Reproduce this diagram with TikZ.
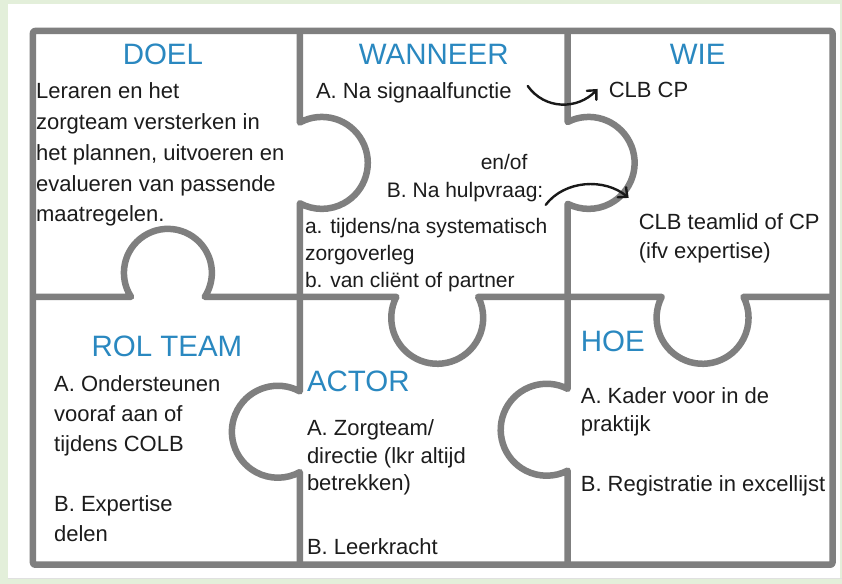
\documentclass[tikz,border=0pt]{standalone}
\usepackage{fontspec}
\setmainfont{Liberation Sans}
\usetikzlibrary{arrows.meta}
\definecolor{framegray}{HTML}{7F7F7F}
\definecolor{titleblue}{HTML}{2A88C0}
\definecolor{bggreen}{HTML}{E3EFDA}
\definecolor{txtblack}{HTML}{1C1C1C}
\begin{document}
\begin{tikzpicture}[x=1pt,y=-1pt,
  piece/.style={draw=framegray, line width=6.5pt, line join=round},
  ttlnode/.style={text=titleblue, font=\fontsize{29.5}{32}\selectfont, inner sep=0pt},
  body/.style={text=txtblack, font=\fontsize{22}{26}\selectfont, inner sep=0pt, anchor=base west},
  smallbody/.style={body, font=\fontsize{21}{25}\selectfont},
  arr/.style={draw=black!90, line width=2.4pt, line cap=round, -{Straight Barb[length=7pt,width=13pt,line cap=round]}}]
% background
\fill[bggreen] (0,0) rectangle (842,584);
\fill[white] (8,4) rectangle (840,578);
\draw[black!12, line width=1pt] (8,578.5) -- (842,578.5);
\useasboundingbox (0,0) rectangle (842,584);
% puzzle frame
\draw[piece, rounded corners=2pt] (33,31) rectangle (833,565);
\draw[piece] (33,297) -- (131.12,297)
  arc[start angle=146.94, end angle=393.06, radius=44] -- (396.57,297)
  arc[start angle=207.16, end angle=-27.16, radius=46] -- (662.07,297)
  arc[start angle=207.16, end angle=-27.16, radius=46] -- (833,297);
\draw[piece] (300,31) -- (300,122.6)
  arc[start angle=-118.57, end angle=118.57, radius=46] -- (300,391.6)
  arc[start angle=-61.43, end angle=-298.57, radius=46] -- (300,565);
\draw[piece] (568,31) -- (568,122.07)
  arc[start angle=-117.16, end angle=117.16, radius=46] -- (568,389.07)
  arc[start angle=-62.84, end angle=-297.16, radius=46] -- (568,565);
% titles
\node[ttlnode, anchor=base] (tdoel) at (163,65) {DOEL};
\node[ttlnode, anchor=base] (twanneer) at (434,65) {WANNEER};
\node[ttlnode, anchor=base] (twie) at (698,65) {WIE};
\node[ttlnode, anchor=base] (trol) at (167,357) {ROL TEAM};
\node[ttlnode, anchor=base west] (tactor) at (307,392) {ACTOR};
\node[ttlnode, anchor=base west] (thoe) at (581,352) {HOE};
% DOEL
\node[body] (d1) at (36,99) {Leraren en het};
\node[body] (d2) at (36,130) {zorgteam versterken in};
\node[body] (d3) at (36,161) {het plannen, uitvoeren en};
\node[body] (d4) at (36,192) {evalueren van passende};
\node[body] (d5) at (36,222) {maatregelen.};
% WANNEER
\node[body] (w1) at (316,99) {A. Na signaalfunctie};
\node[smallbody, anchor=base east] (w2) at (528,170) {en/of};
\node[smallbody] (w3) at (387,198) {B. Na hulpvraag:};
\node[smallbody] (w4) at (305,234) {a. tijdens/na systematisch};
\node[smallbody] (w5) at (305,261) {zorgoverleg};
\node[smallbody] (w6) at (305,288) {b. van cliënt of partner};
% WIE
\node[body] (c1) at (609,98) {CLB CP};
\node[body] (c2) at (639,230) {CLB teamlid of CP};
\node[body] (c3) at (639,259) {(ifv expertise)};
% ROL TEAM
\node[body] (r1) at (54,392) {A. Ondersteunen};
\node[body] (r2) at (54,422) {vooraf aan of};
\node[body] (r3) at (54,452) {tijdens COLB};
\node[body] (r4) at (54,512) {B. Expertise};
\node[body] (r5) at (54,542) {delen};
% ACTOR
\node[body] (ac1) at (307,436) {A. Zorgteam/};
\node[body] (ac2) at (307,464) {directie (lkr altijd};
\node[body] (ac3) at (307,491) {betrekken)};
\node[body] (ac4) at (307,555) {B. Leerkracht};
% HOE
\node[body] (h1) at (581,404) {A. Kader voor in de};
\node[body] (h2) at (581,432) {praktijk};
\node[body] (h3) at (581,492) {B. Registratie in excellijst};
% arrows
\coordinate (a1s) at (528,86);
\coordinate (a1e) at (598,89);
\draw[arr] (a1s) .. controls (545,110) and (578,110) .. (a1e);
\coordinate (a2s) at (546,205);
\coordinate (a2e) at (629,198);
\draw[arr] (a2s) .. controls (565,180) and (605,178) .. (a2e);
\end{tikzpicture}
\end{document}
